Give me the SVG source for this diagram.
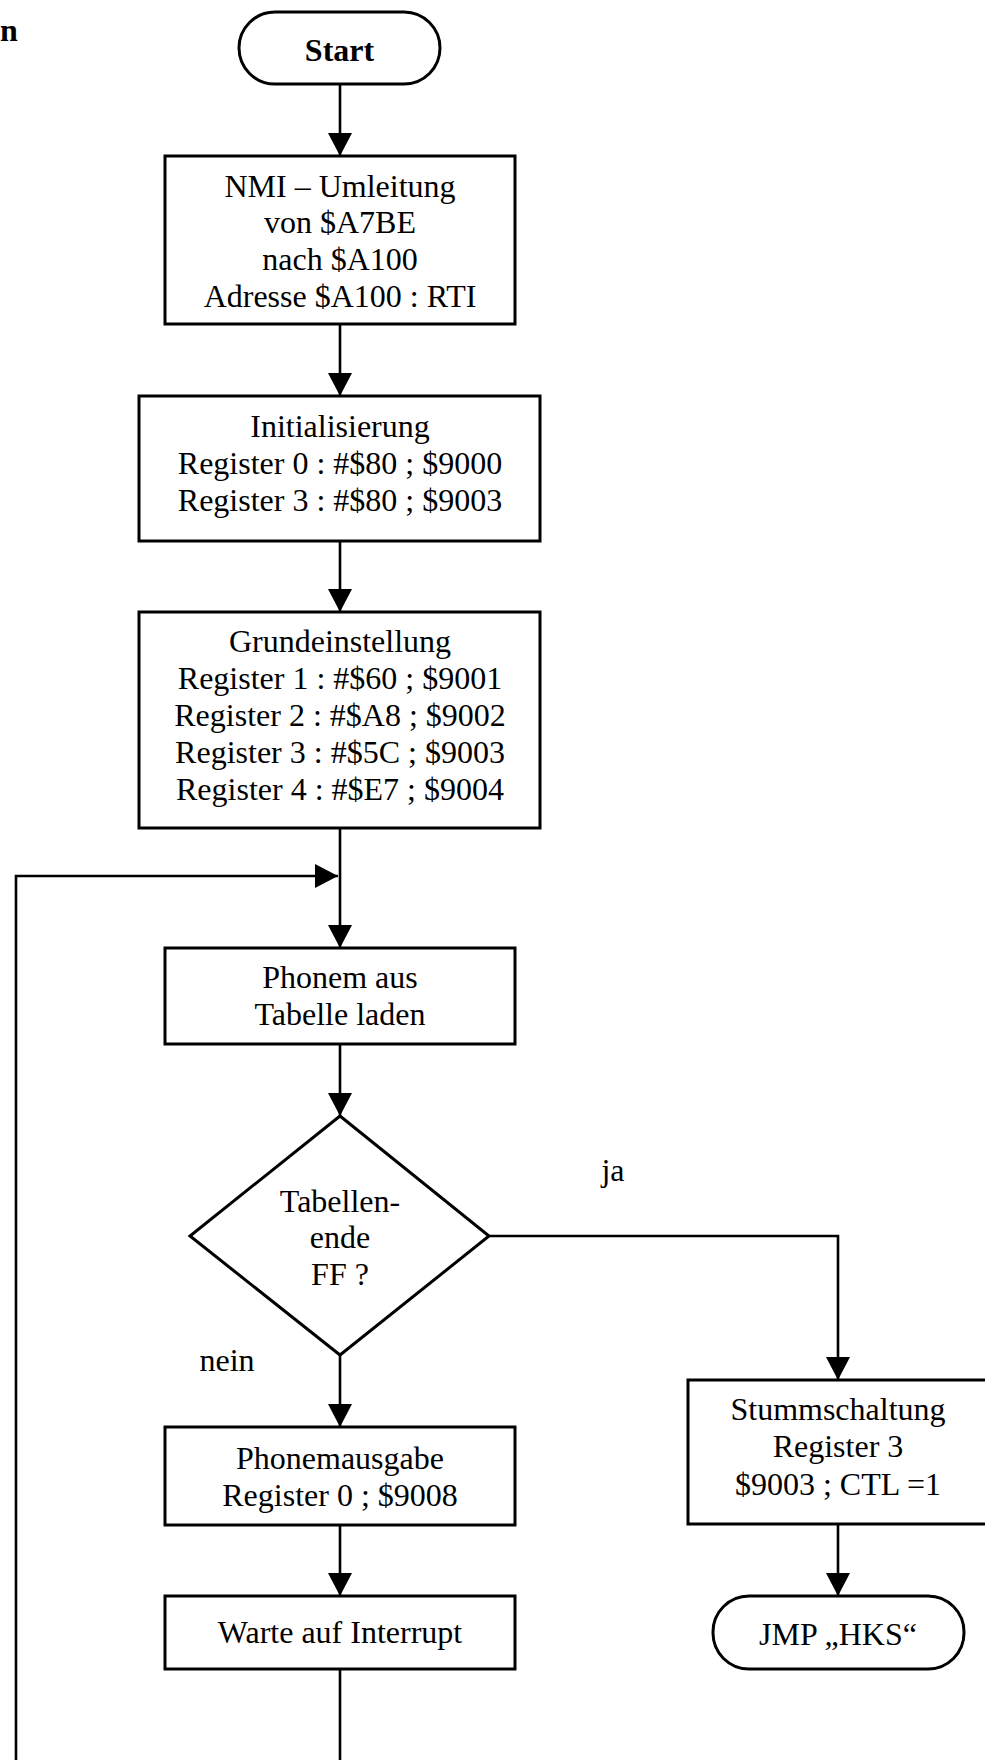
<svg xmlns="http://www.w3.org/2000/svg" width="985" height="1760" viewBox="0 0 985 1760">
  <style>
    .shape { fill: #fff; stroke: #000; stroke-width: 3; }
    .conn { fill: none; stroke: #000; stroke-width: 2.6; }
    text { font-family: "Liberation Serif", "Times New Roman", serif; font-size: 32px; fill: #000; text-anchor: middle; }
    .bold { font-weight: bold; }
  </style>
  <defs>
    <marker id="arrow" markerUnits="userSpaceOnUse" viewBox="0 0 23 24" markerWidth="23" markerHeight="24" refX="23" refY="12" orient="auto">
      <path d="M0,0 L23,12 L0,24 z" fill="#000"/>
    </marker>
  </defs>

  <text class="bold" x="0" y="41" style="text-anchor:start">n</text>

  <g id="connectors">
    <path class="conn" d="M340,84 V156" marker-end="url(#arrow)"/>
    <path class="conn" d="M340,324 V396" marker-end="url(#arrow)"/>
    <path class="conn" d="M340,541 V612" marker-end="url(#arrow)"/>
    <path class="conn" d="M340,828 V948" marker-end="url(#arrow)"/>
    <path class="conn" d="M16,1760 V876 H338" marker-end="url(#arrow)"/>
    <path class="conn" d="M340,1044 V1116" marker-end="url(#arrow)"/>
    <path class="conn" d="M340,1355 V1427" marker-end="url(#arrow)"/>
    <path class="conn" d="M340,1525 V1596" marker-end="url(#arrow)"/>
    <path class="conn" d="M340,1669 V1760"/>
    <path class="conn" d="M489,1236 H838 V1380" marker-end="url(#arrow)"/>
    <path class="conn" d="M838,1524 V1596" marker-end="url(#arrow)"/>
    <text x="613" y="1181">ja</text>
    <text x="227" y="1371">nein</text>
  </g>

  <g id="start">
    <rect class="shape" x="239" y="12" width="201" height="72" rx="36" ry="36"/>
    <text class="bold" x="339.5" y="61">Start</text>
  </g>

  <g id="nmi">
    <rect class="shape" x="165" y="156" width="350" height="168"/>
    <text x="340" y="197">NMI – Umleitung</text>
    <text x="340" y="233">von $A7BE</text>
    <text x="340" y="270">nach $A100</text>
    <text x="340" y="307">Adresse $A100 : RTI</text>
  </g>

  <g id="init">
    <rect class="shape" x="139" y="396" width="401" height="145"/>
    <text x="340" y="437">Initialisierung</text>
    <text x="340" y="474">Register 0 : #$80 ; $9000</text>
    <text x="340" y="511">Register 3 : #$80 ; $9003</text>
  </g>

  <g id="grund">
    <rect class="shape" x="139" y="612" width="401" height="216"/>
    <text x="340" y="652">Grundeinstellung</text>
    <text x="340" y="689">Register 1 : #$60 ; $9001</text>
    <text x="340" y="726">Register 2 : #$A8 ; $9002</text>
    <text x="340" y="763">Register 3 : #$5C ; $9003</text>
    <text x="340" y="800">Register 4 : #$E7 ; $9004</text>
  </g>

  <g id="phonem">
    <rect class="shape" x="165" y="948" width="350" height="96"/>
    <text x="340" y="988">Phonem aus</text>
    <text x="340" y="1025">Tabelle laden</text>
  </g>

  <g id="decision">
    <polygon class="shape" points="340,1116 489,1236 340,1355 190,1236"/>
    <text x="340" y="1212">Tabellen-</text>
    <text x="340" y="1248">ende</text>
    <text x="340" y="1285">FF ?</text>
  </g>

  <g id="ausgabe">
    <rect class="shape" x="165" y="1427" width="350" height="98"/>
    <text x="340" y="1469">Phonemausgabe</text>
    <text x="340" y="1506">Register 0 ; $9008</text>
  </g>

  <g id="warte">
    <rect class="shape" x="165" y="1596" width="350" height="73"/>
    <text x="340" y="1643">Warte auf Interrupt</text>
  </g>

  <g id="stumm">
    <rect class="shape" x="688" y="1380" width="310" height="144"/>
    <text x="838" y="1420">Stummschaltung</text>
    <text x="838" y="1457">Register 3</text>
    <text x="838" y="1495">$9003 ; CTL =1</text>
  </g>

  <g id="jmp">
    <rect class="shape" x="713" y="1596" width="251" height="73" rx="36" ry="36"/>
    <text x="838" y="1645">JMP „HKS“</text>
  </g>
</svg>
